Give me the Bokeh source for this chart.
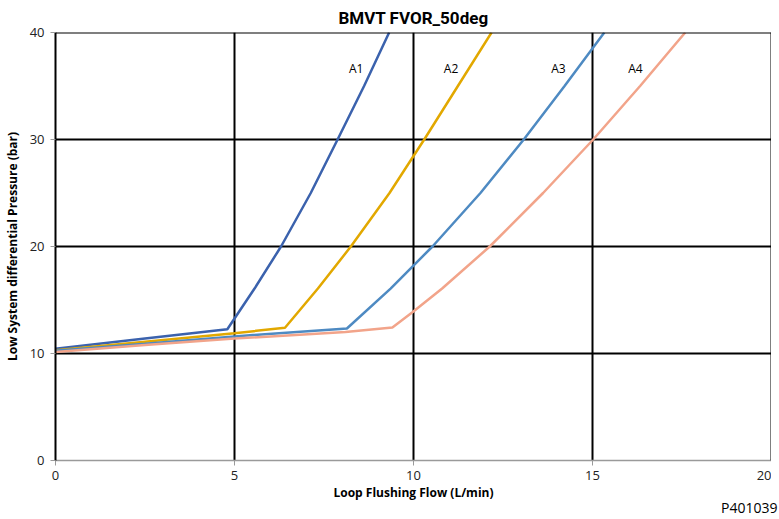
from bokeh.plotting import figure
from bokeh.embed import file_html
from bokeh.resources import INLINE
from bokeh.models import FixedTicker, Range1d, Span, Div
from bokeh.layouts import column
from bokeh.core.properties import value

# data
a1_x = [0.0, 2.5, 4.8, 5.56, 6.3, 7.13, 7.88, 8.62, 9.32]
a1_y = [10.45, 11.4, 12.27, 16.07, 20.0, 25.0, 30.0, 35.0, 40.0]
a2_x = [0.0, 2.5, 5.0, 6.41, 7.33, 8.25, 9.33, 10.3, 11.24, 12.18]
a2_y = [10.3, 11.1, 11.9, 12.4, 16.07, 20.0, 25.0, 30.0, 35.0, 40.0]
a3_x = [0.0, 2.5, 5.0, 8.14, 9.36, 10.53, 11.87, 13.08, 14.22, 15.33]
a3_y = [10.25, 10.9, 11.6, 12.34, 16.07, 20.0, 25.0, 30.0, 35.0, 40.0]
a4_x = [0.0, 2.5, 5.0, 8.1, 9.41, 9.97, 10.8, 12.13, 13.62, 15.02, 16.33, 17.59]
a4_y = [10.15, 10.8, 11.4, 12.0, 12.43, 13.85, 16.07, 20.0, 25.0, 30.0, 35.0, 40.0]

series_names = ["A1", "A2", "A3", "A4"]
series_colors = ["#3b62ad", "#e2a800", "#4e8ac2", "#f2a48a"]
label_x = [8.4, 11.05, 14.05, 16.2]
label_y = [36.6, 36.6, 36.6, 36.6]

x_ticks = [0, 5, 10, 15, 20]
y_ticks = [0, 10, 20, 30, 40]
x_edges = [20]
y_edges = [40]
figure_code = "P401039"

p = figure(width=771, height=503, output_backend="svg", toolbar_location=None,
           x_range=Range1d(0, 20), y_range=Range1d(0, 40),
           min_border_left=46, min_border_right=0, min_border_top=26, min_border_bottom=40)

p.title.text = "BMVT FVOR_50deg"
p.title.align = "center"
p.title.text_font = "Roboto"
p.title.text_font_size = "17px"
p.title.text_font_style = "bold"
p.title.text_color = "#000000"

p.outline_line_color = None
p.background_fill_color = "white"

p.xgrid.ticker = FixedTicker(ticks=[0, 5, 10, 15, 20])
p.ygrid.ticker = FixedTicker(ticks=[10, 20, 30, 40])
for g in (p.xgrid, p.ygrid):
    g.grid_line_color = "#000000"
    g.grid_line_width = 2
    g.level = "underlay"

for loc in x_edges:
    p.add_layout(Span(location=loc, dimension="height", line_color="#000000", line_width=2))
for loc in y_edges:
    p.add_layout(Span(location=loc, dimension="width", line_color="#000000", line_width=2))

for ax in (p.xaxis, p.yaxis):
    ax.major_label_text_font = "Open Sans"
    ax.major_label_text_font_size = "13px"
    ax.major_label_text_color = "#222222"
    ax.axis_label_text_font = "Open Sans"
    ax.axis_label_text_font_size = "12px"
    ax.axis_label_text_font_style = "bold"
    ax.axis_label_text_color = "#000000"
    ax.major_tick_line_color = "#9a9a9a"
    ax.major_tick_in = 0
    ax.major_tick_out = 5
    ax.minor_tick_line_color = None

p.xaxis.ticker = FixedTicker(ticks=x_ticks)
p.yaxis.ticker = FixedTicker(ticks=y_ticks)
p.xaxis.axis_label = "Loop Flushing Flow (L/min)"
p.yaxis.axis_label = "Low System differential Pressure (bar)"
p.xaxis.axis_line_color = "#9a9a9a"
p.xaxis.axis_line_width = 1.5
p.yaxis.axis_line_color = "#000000"
p.yaxis.axis_line_width = 2
p.xaxis.major_label_standoff = 5
p.yaxis.major_label_standoff = 6
p.xaxis.axis_label_standoff = 1
p.yaxis.axis_label_standoff = 6

xs = [a1_x, a2_x, a3_x, a4_x]
ys = [a1_y, a2_y, a3_y, a4_y]
for sx, sy, c in zip(xs, ys, series_colors):
    p.line(sx, sy, line_color=c, line_width=2.5)

p.text(x=label_x, y=label_y, text=series_names, text_font=value("Open Sans"),
       text_font_size="12px", text_align="center", text_baseline="middle",
       text_color="#000000")

code_div = Div(text=figure_code,
               styles={"position": "absolute", "left": "716px", "top": "496px",
                       "font-family": "Open Sans", "font-size": "14px",
                       "line-height": "14px", "color": "#000000"})

layout = column(p, code_div)
open("out.html", "w").write(file_html(layout, INLINE))
